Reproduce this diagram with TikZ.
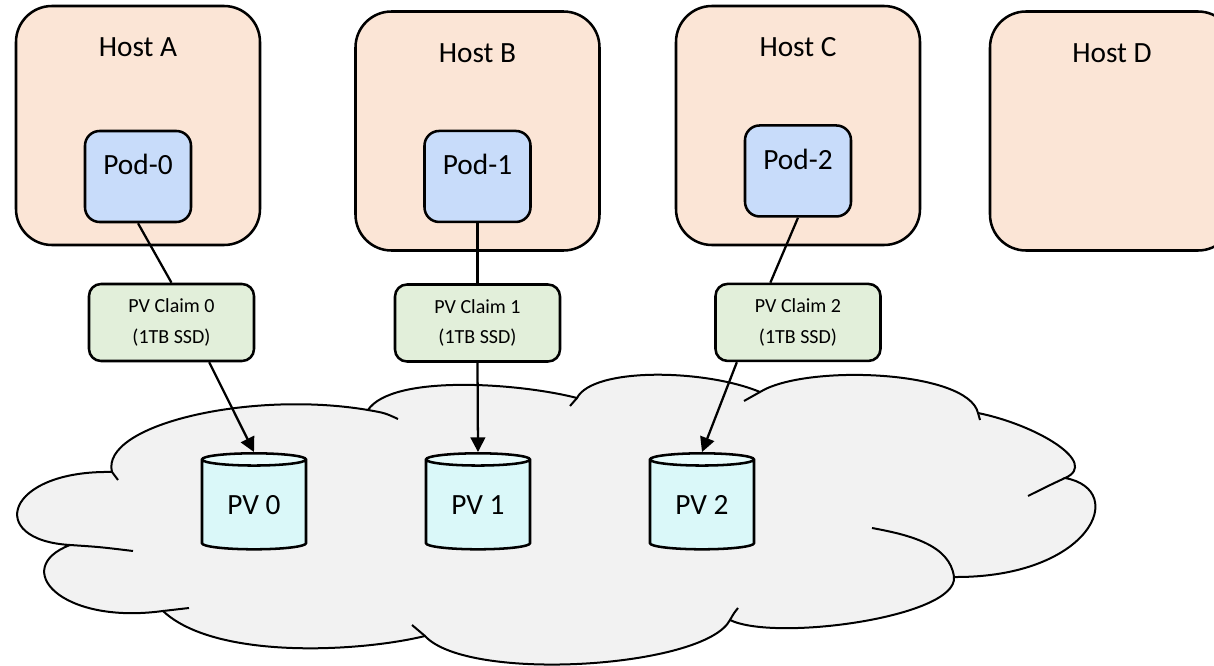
\documentclass[tikz,border=0pt]{standalone}
\usepackage{fontspec}
\setmainfont{Carlito}
\usetikzlibrary{shapes.geometric,arrows.meta,calc}
\definecolor{hostfill}{RGB}{251,229,214}
\definecolor{podfill}{RGB}{200,220,250}
\definecolor{claimfill}{RGB}{226,239,218}
\definecolor{cloudfill}{RGB}{242,242,242}
\definecolor{pvbody}{RGB}{218,248,249}
\definecolor{pvtop}{RGB}{232,252,252}
\begin{document}
\begin{tikzpicture}[
  x=0.75pt, y=-0.75pt,
  host/.style={rectangle, rounded corners=27pt, draw, line width=1.9pt, fill=hostfill, minimum width=183pt, inner sep=0pt, text height=38.25pt, text depth=141pt, font=\fontsize{22}{26}\selectfont},
  pod/.style={rectangle, rounded corners=11pt, draw, line width=1.9pt, fill=podfill, minimum width=79.5pt, inner sep=0pt, text height=33pt, text depth=35.25pt, font=\fontsize{22}{26}\selectfont},
  claim/.style={rectangle, rounded corners=9pt, draw, line width=1.9pt, fill=claimfill, minimum width=123.75pt, minimum height=57.75pt, inner sep=0pt, align=center, font=\fontsize{15}{23}\selectfont},
  pv/.style={cylinder, shape border rotate=90, aspect=0.23, draw, line width=1.9pt, cylinder uses custom fill, cylinder body fill=pvbody, cylinder end fill=pvtop, minimum width=78pt, minimum height=72pt, inner sep=0pt, font=\fontsize{22}{26}\selectfont},
  link/.style={line width=1.7pt},
  feed/.style={line width=1.7pt, -{Triangle[length=11pt,width=11pt]}}
]
\useasboundingbox (0,0) rectangle (1214,666);

% storage cloud
\filldraw[fill=cloudfill, line width=1.5pt]
  (112,472) .. controls (100,425) and (250,390) .. (368,410)
  .. controls (392,374) and (519,383) .. (577,398)
  .. controls (593,367) and (705,369) .. (760,392)
  .. controls (805,364) and (968,370) .. (978,413)
  .. controls (1037,425) and (1100,463) .. (1065,478)
  .. controls (1130,490) and (1090,578) .. (954,577)
  .. controls (958,617) and (775,642) .. (730,620)
  .. controls (705,668) and (468,683) .. (425,636)
  .. controls (360,652) and (215,660) .. (163,611)
  .. controls (60,625) and (10,568) .. (70,545)
  .. controls (-15,540) and (5,470) .. (112,472) -- cycle;
\draw[line width=1.5pt]
  (368,410) .. controls (385,413) .. (398,419)
  (577,398) .. controls (573,402) .. (570,406)
  (760,392) .. controls (752,396) .. (744,401)
  (978,413) .. controls (979,417) .. (980,420)
  (1065,478) .. controls (1048,486) .. (1028,496)
  (954,577) .. controls (950,545) and (910,535) .. (872,528)
  (730,620) .. controls (734,613) .. (738,608)
  (425,636) .. controls (418,630) .. (412,625)
  (163,611) .. controls (176,609) .. (189,608)
  (70,545) .. controls (100,547) .. (133,551)
  (112,472) .. controls (115,476) .. (118,480);

% hosts and pods
\node[host] (hostA) at (138,125.5) {Host A};
\node[host] (hostB) at (477.5,131) {Host B};
\node[host] (hostC) at (798,125.5) {Host C};
\node[host] (hostD) at (1112,131) {Host D};

\node[pod, below of=hostA, node distance=38.25pt] (pod0) {Pod-0};
\node[pod, below of=hostB, node distance=34.1pt] (pod1) {Pod-1};
\node[pod, below of=hostC, node distance=34.1pt] (pod2) {Pod-2};

% claims
\node[claim] (claim0) at (171.5,322.5) {PV Claim 0\\(1TB SSD)};
\node[claim, below of=pod1, node distance=109.9pt] (claim1) {PV Claim 1\\(1TB SSD)};
\node[claim, below of=pod2, node distance=113.6pt] (claim2) {PV Claim 2\\(1TB SSD)};

% volumes
\node[pv] (pv0) at (254,505) {PV 0};
\node[pv, right of=pv0, node distance=168pt] (pv1) {PV 1};
\node[pv, right of=pv1, node distance=168pt] (pv2) {PV 2};

\draw[link] (pod0.south) -- (claim0.north);
\draw[link] (pod1.south) -- (claim1.north);
\draw[link] (pod2.south) -- ($(claim2.north)!0.33!(claim2.north west)$);
\draw[feed] ($(claim0.south)!0.45!(claim0.south east)$) -- (pv0.north);
\draw[feed] (claim1.south) -- (pv1.north);
\draw[feed] ($(claim2.south)!0.73!(claim2.south west)$) -- (pv2.north);
\end{tikzpicture}
\end{document}
